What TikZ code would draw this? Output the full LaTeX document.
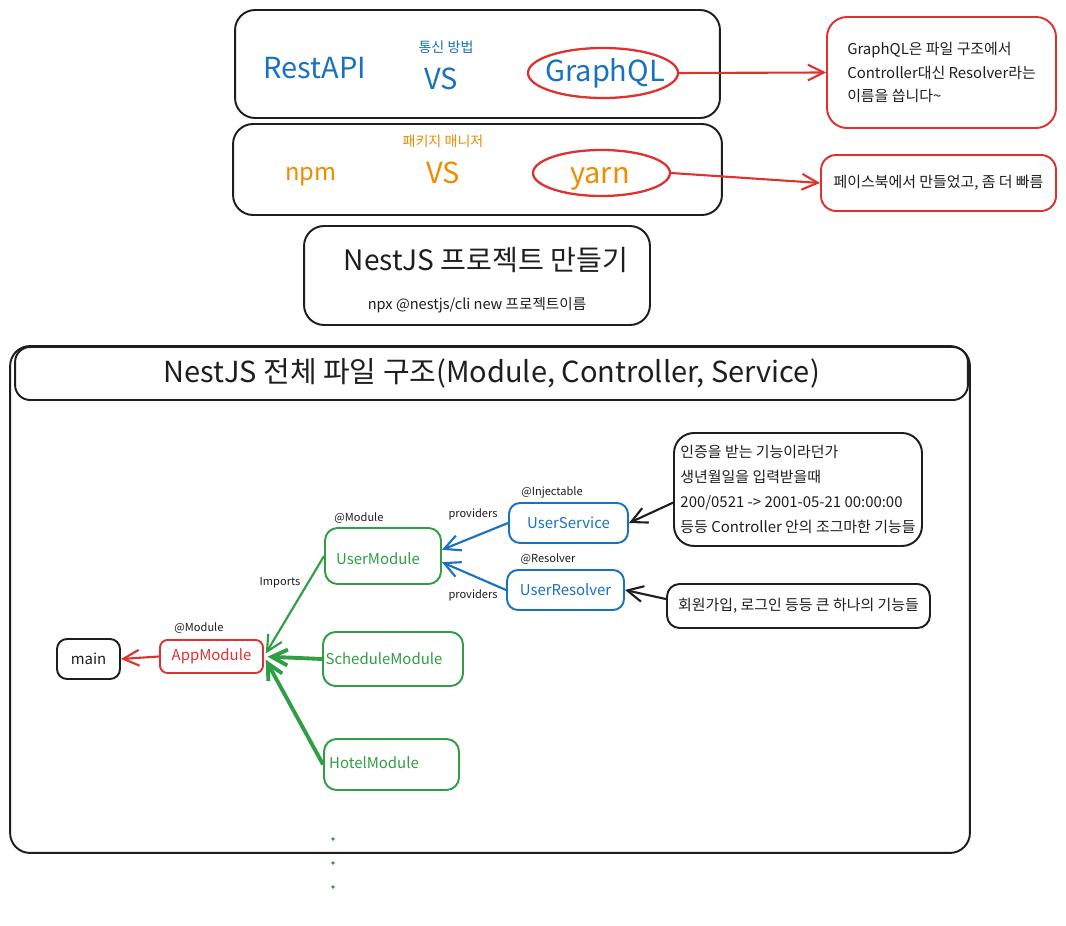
\documentclass[tikz,border=0pt]{standalone}
\usepackage{fontspec}
\setmainfont{Noto Sans CJK KR}
\usetikzlibrary{arrows.meta}
\usetikzlibrary{shapes}
\definecolor{ink}{HTML}{1E1E1E}
\definecolor{xblue}{HTML}{1971C2}
\definecolor{xred}{HTML}{E03131}
\definecolor{xgreen}{HTML}{2F9E44}
\definecolor{xorange}{HTML}{F08C00}

\begin{document}
\begin{tikzpicture}[x=0.02cm, y=-0.02cm,
	box/.style={draw=ink, line width=1.1pt, rounded corners=0.4cm},
	redbox/.style={draw=xred, line width=1.1pt, rounded corners=0.4cm},
	gbox/.style={draw=xgreen, line width=1.1pt, rounded corners=0.25cm},
	bbox/.style={draw=xblue, line width=1.1pt, rounded corners=0.22cm},
	oval/.style={draw=xred, ellipse, line width=1.3pt, inner sep=0pt},
	bigtxt/.style={font=\fontsize{16.5}{19}\selectfont},
	headtxt/.style={font=\fontsize{8}{9}\selectfont},
	note/.style={font=\fontsize{8.5}{13.6}\selectfont, align=left, text=ink},
	modtxt/.style={font=\fontsize{8.5}{10}\selectfont},
	smalllbl/.style={font=\fontsize{6.3}{8}\selectfont, text=ink},
	arr/.style={-{Straight Barb[length=9pt,width=9pt]}, line width=1.2pt},
	dot/.style={circle, fill=xgreen, inner sep=0.8pt},
	]
			\path[use as bounding box, fill=white] (0,0) rectangle (1066,926);

			\node[box, minimum width=9.7cm, minimum height=2.16cm] (apibox) at (477.5,64) {};
			\node[bigtxt, text=xblue] (restapi) at (315,68) {RestAPI};
			\node[headtxt, text=xblue] (apihead) at (446,47) {통신 방법};
			\node[bigtxt, text=xblue] (vsone) at (441,79) {VS};
			\node[oval, minimum width=3cm, minimum height=1cm] (graphql) at (603,73) {};
			\node[bigtxt, text=xblue] (graphqltxt) at (605,73) {GraphQL};

			\node[box, minimum width=9.78cm, minimum height=1.82cm] (pkgbox) at (477.5,169.5) {};
			\node[bigtxt, font=\fontsize{13.5}{16}\selectfont, text=xorange] (npm) at (311,177) {npm};
			\node[headtxt, text=xorange] (pkghead) at (443,141) {패키지 매니저};
			\node[bigtxt, text=xorange] (vstwo) at (443,173) {VS};
			\node[oval, minimum width=2.74cm, minimum height=0.92cm] (yarn) at (601.5,173) {};
			\node[bigtxt, text=xorange] (yarntxt) at (600,179) {yarn};

			\node[redbox, note, minimum width=4.58cm, minimum height=2.22cm] (gqlnote) at (941.5,72.5) {GraphQL은 파일 구조에서\\Controller대신 Resolver라는\\이름을 씁니다\textasciitilde};
			\node[redbox, note, rounded corners=0.3cm, minimum width=4.7cm, minimum height=1.12cm] (yarnnote) at (938.5,183) {페이스북에서 만들었고, 좀 더 빠름};
			\draw[arr, xred] (graphql.east) -- (gqlnote.west);
			\draw[arr, xred] (yarn.east) -- (yarnnote.west);

			\node[box, minimum width=6.92cm, minimum height=1.98cm] (nestbox) at (477,275.5) {};
			\node[font=\fontsize{16}{18}\selectfont, text=ink] (nesttitle) at (486,260) {NestJS 프로젝트 만들기};
			\node[note, font=\fontsize{8.3}{10}\selectfont] (nestcmd) at (477,305) {npx @nestjs/cli new 프로젝트이름};

			\node[box, minimum width=19.2cm, minimum height=10.14cm] (structure) at (490,599.5) {};
			\node[box, rounded corners=0.3cm, minimum width=19.06cm, minimum height=1.06cm, font=\fontsize{16.5}{18}\selectfont, text=ink] (structtitle) at (491.5,373.5) {NestJS 전체 파일 구조(Module, Controller, Service)};

			\node[box, rounded corners=0.2cm, minimum width=1.26cm, minimum height=0.8cm, modtxt, text=ink] (main) at (88.5,659) {main};
			\node[redbox, rounded corners=0.15cm, minimum width=2.06cm, minimum height=0.66cm, modtxt, text=xred] (app) at (211.5,656.5) {AppModule};
			\node[smalllbl] (appdeco) at (199,628) {@Module};
			\draw[arr, xred] (app.west) -- (main.east);

			\node[gbox, minimum width=2.32cm, minimum height=1.12cm] (usermod) at (383,556) {};
			\node[modtxt, text=xgreen] (usermodtxt) at (378,559) {UserModule};
			\node[smalllbl] (usermoddeco) at (359,518) {@Module};
			\node[gbox, minimum width=2.8cm, minimum height=1.08cm] (schedule) at (393,659) {};
			\node[modtxt, text=xgreen] (scheduletxt) at (384,659) {ScheduleModule};
			\node[gbox, minimum width=2.7cm, minimum height=1.02cm] (hotel) at (391.5,764.5) {};
			\node[modtxt, text=xgreen] (hoteltxt) at (374,763) {HotelModule};

			\draw[arr, xgreen, shorten >=2pt] (usermod.west) -- (app.east);
			\draw[arr, xgreen, shorten >=2pt, line width=2.2pt] (schedule.west) -- (app.east);
			\draw[arr, xgreen, shorten >=2pt, line width=2.2pt] (hotel.west) -- (app.east);
			\node[smalllbl] (importslbl) at (280,583) {Imports};

			\node[bbox, modtxt, text=xblue, minimum width=2.38cm, minimum height=0.8cm] (usersvc) at (568.5,523) {UserService};
			\node[smalllbl] (usersvcdeco) at (552,492) {@Injectable};
			\node[bbox, modtxt, text=xblue, minimum width=2.34cm, minimum height=0.8cm] (userres) at (565.5,590) {UserResolver};
			\node[smalllbl] (userresdeco) at (548,559) {@Resolver};
			\draw[arr, xblue] (usersvc.west) -- (usermod.6);
			\draw[arr, xblue] (userres.west) -- (usermod.-6);
			\node[smalllbl] (svcprov) at (473,514) {providers};
			\node[smalllbl] (resprov) at (473,595) {providers};

			\node[box, note, font=\fontsize{8.5}{14.2}\selectfont, minimum width=4.96cm, minimum height=2.26cm] (svcnote) at (798,489.5) {인증을 받는 기능이라던가\\생년월일을 입력받을때\\200/0521 -> 2001-05-21 00:00:00\\등등 Controller 안의 조그마한 기능들};
			\node[box, note, rounded corners=0.25cm, minimum width=5.26cm, minimum height=0.88cm] (resnote) at (798.5,606) {회원가입, 로그인 등등 큰 하나의 기능들};
			\draw[arr, ink] (svcnote.186) -- (usersvc.east);
			\draw[arr, ink] (resnote.177) -- (userres.east);

			\node[dot] (moreone) at (333,839) {};
			\node[dot] (moretwo) at (333,863) {};
			\node[dot] (morethree) at (333,887) {};
\end{tikzpicture}
\end{document}
